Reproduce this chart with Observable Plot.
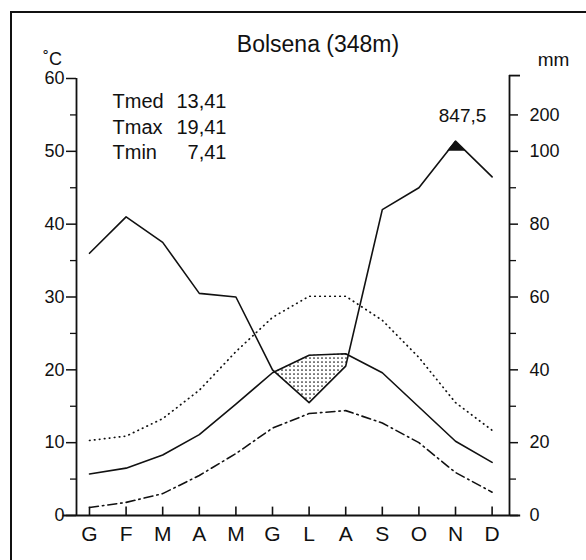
<!DOCTYPE html>
<html><head><meta charset="utf-8">
<script src="https://cdn.jsdelivr.net/npm/d3@7"></script>
<script src="https://cdn.jsdelivr.net/npm/@observablehq/plot@0.6"></script>
<style>
body{margin:0;background:#fff;}
#wrap{position:relative;width:586px;height:560px;overflow:hidden;}
#border{position:absolute;left:10px;top:11px;width:600px;height:600px;border-left:2px solid #111;border-top:2px solid #111;pointer-events:none;}
</style></head><body><div id="wrap"><div id="border"></div></div>
<script>
const months = ["G","F","M","A","M","G","L","A","S","O","N","D"];
const tMed = [5.7,6.5,8.3,11.1,15.3,19.6,22.0,22.2,19.6,14.9,10.2,7.3];
const tMax = [10.3,10.9,13.3,17.2,22.5,27.2,30.1,30.1,26.8,21.7,15.5,11.7];
const tMin = [1.1,1.8,3.0,5.5,8.5,12.0,14.0,14.4,12.7,10.0,5.9,3.2];
const precip = [72,82,75,61,60,40,31,41,84,90,128,93];
const tempTicks = [0,10,20,30,40,50,60];
const tempMinorTicks = [5,15,25,35,45,55];
const mmTicks = [0,20,40,60,80,100,200];
const mmMinorTicks = [10,30,50,70,90];
const stationTitle = "Bolsena (348m)";
const annualTotal = "847,5";
const statNames = ["Tmed","Tmax","Tmin"];
const statValues = ["13,41","19,41","7,41"];

// Walter-Lieth: 20 mm = 10 °C up to 100 mm, above that scale reduced 1:10
const eq = p => p <= 100 ? p / 2 : 50 + (p - 100) / 20;
const mmLabel = new Map(mmTicks.map(m => [eq(m), String(m)]));
const pEq = precip.map(eq);
const idx = d3.range(months.length);

function band(upper, lower) {
  const rows = []; let id = 0, open = false;
  for (let i = 0; i < upper.length; i++) {
    const d = upper[i] - lower[i];
    if (d >= 0) { if (!open) { open = true; id++; } rows.push({x: i, y1: lower[i], y2: upper[i], z: id}); }
    if (i < upper.length - 1) {
      const d2 = upper[i + 1] - lower[i + 1];
      if ((d >= 0) !== (d2 >= 0)) {
        const t = d / (d - d2);
        const x = i + t, y = lower[i] + t * (lower[i + 1] - lower[i]);
        if (!open) { open = true; id++; }
        rows.push({x, y1: y, y2: y, z: id});
        if (d >= 0) open = false;
      }
    }
  }
  return rows;
}
const dry = band(tMed, pEq);
const wet = band(pEq, idx.map(() => 50));

const X0 = -0.355, X1 = 11.475;
const ink = "#111";
const font = "'Liberation Sans', Arial, sans-serif";

const chart = Plot.plot({
  width: 586, height: 560,
  marginLeft: 76, marginRight: 77, marginTop: 78, marginBottom: 45,
  style: {fontFamily: font, color: ink, background: "transparent"},
  x: {type: "linear", domain: [X0, X1]},
  y: {domain: [0, 60]},
  marks: [
    Plot.areaY(dry, {x: "x", y1: "y1", y2: "y2", z: "z", fill: "url(#dots)", curve: "linear"}),
    Plot.areaY(wet, {x: "x", y1: "y1", y2: "y2", z: "z", fill: ink, curve: "linear"}),
    // axes lines
    Plot.ruleX([X0], {y1: 0, y2: 60, stroke: ink, strokeWidth: 1.8}),
    Plot.ruleX([X1], {y1: 0, y2: 60.4, stroke: ink, strokeWidth: 1.8}),
    Plot.ruleY([60.4], {x1: X1, x2: X1 + 0.3, stroke: ink, strokeWidth: 1.8}),
    Plot.ruleY([0], {x1: -0.72, x2: 11.78, stroke: ink, strokeWidth: 1.8}),
    Plot.ruleX(idx, {y1: 0, y2: 1.15, stroke: ink, strokeWidth: 1.6}),
    Plot.axisY({anchor: "left", ticks: tempTicks, tickSize: 10, tickPadding: 2, fontSize: 18, label: null, strokeWidth: 1.5}),
    Plot.axisY({anchor: "left", ticks: tempMinorTicks, tickSize: 6, text: null, label: null, strokeWidth: 1.3}),
    Plot.axisY({anchor: "right", ticks: mmTicks.map(eq), tickFormat: d => mmLabel.get(d), tickSize: 8, tickPadding: 12, fontSize: 18, label: null, strokeWidth: 1.5}),
    Plot.axisY({anchor: "right", ticks: mmMinorTicks.map(eq), tickSize: 6, text: null, label: null, strokeWidth: 1.3}),
    Plot.axisX({ticks: idx, tickFormat: i => months[i], tickSize: 0, tickPadding: 11, fontSize: 21, label: null}),
    // series
    Plot.line(idx, {x: i => i, y: i => tMax[i], stroke: ink, strokeWidth: 1.7, strokeDasharray: "0.5,4.5", strokeLinecap: "round"}),
    Plot.line(idx, {x: i => i, y: i => tMin[i], stroke: ink, strokeWidth: 1.6, strokeDasharray: "9,4,1.5,4"}),
    Plot.line(idx, {x: i => i, y: i => tMed[i], stroke: ink, strokeWidth: 1.6}),
    Plot.line(idx, {x: i => i, y: i => pEq[i], stroke: ink, strokeWidth: 1.6}),
    // texts
    Plot.text([stationTitle], {frameAnchor: "top", dx: 25, dy: -34, lineAnchor: "middle", fontSize: 23, fill: ink}),
    Plot.text(["˚C"], {frameAnchor: "top-left", dx: -24, dy: -19, lineAnchor: "middle", textAnchor: "middle", fontSize: 18, fill: ink}),
    Plot.text(["mm"], {frameAnchor: "top-right", dx: 44, dy: -19, lineAnchor: "middle", textAnchor: "middle", fontSize: 19, fill: ink}),
    Plot.text([statNames.join("\n")], {frameAnchor: "top-left", dx: 36, dy: 47, lineAnchor: "middle", textAnchor: "start", lineHeight: 1.27, fontSize: 20, fill: ink}),
    Plot.text([statValues.join("\n")], {frameAnchor: "top-left", dx: 150, dy: 47, lineAnchor: "middle", textAnchor: "end", lineHeight: 1.27, fontSize: 20, fill: ink}),
    Plot.text([d3.maxIndex(precip)], {x: i => i, y: i => pEq[i], text: () => annualTotal, dx: 7, dy: -25, lineAnchor: "middle", fontSize: 19, fill: ink})
  ]
});

const defs = d3.select(chart).insert("defs", ":first-child");
const pat = defs.append("pattern").attr("id", "dots").attr("patternUnits", "userSpaceOnUse").attr("width", 4).attr("height", 4);
pat.append("rect").attr("width", 4).attr("height", 4).attr("fill", "#fff");
pat.append("circle").attr("cx", 2).attr("cy", 2).attr("r", 0.85).attr("fill", ink);

document.getElementById("wrap").appendChild(chart);
chart.style.position = "absolute";
chart.style.left = "0"; chart.style.top = "0";
</script>
</body></html>
